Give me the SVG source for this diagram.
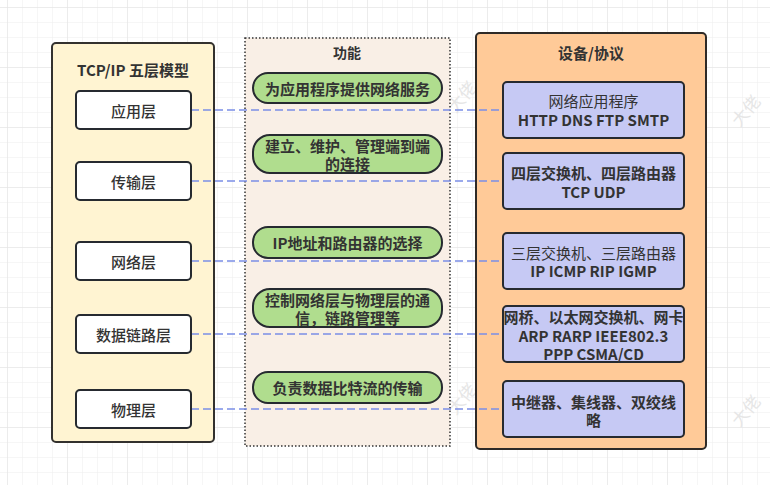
<svg xmlns="http://www.w3.org/2000/svg" width="770" height="485" viewBox="0 0 770 485">
  <defs>
    <pattern id="minor" x="7" y="7" width="15" height="15" patternUnits="userSpaceOnUse">
      <path d="M0 0H15M0 0V15" fill="none" stroke="#ededed" stroke-width="1"/>
    </pattern>
    <pattern id="major" x="7" y="7" width="60" height="60" patternUnits="userSpaceOnUse">
      <path d="M0 0H60M0 0V60" fill="none" stroke="#e2e2e2" stroke-width="1"/>
    </pattern>
    <style>
      text { font-family: "Noto Sans CJK SC", "Noto Sans", "Liberation Sans", sans-serif; fill: #333333; text-anchor: middle; dominant-baseline: central; }
      .title { font-size: 15px; font-weight: bold; }
      .layer rect { fill: #ffffff; stroke: #262a30; stroke-width: 2; }
      .layer text { font-size: 15px; font-weight: 500; }
      .func rect { fill: #b0dd8e; stroke: #262a30; stroke-width: 2; }
      .func text { font-size: 15px; font-weight: 600; }
      .dev rect { fill: #c6c9f4; stroke: #262a30; stroke-width: 2; }
      .dev text { font-size: 15px; }
      .dev .b { font-weight: bold; }
      .link { fill: none; stroke: #7b8ee6; stroke-width: 1.6; stroke-dasharray: 8 4; }
      .wm { font-size: 17px; fill: #e6e6e6; }
    </style>
  </defs>
  <rect width="770" height="485" fill="#ffffff"/>
  <rect width="770" height="485" fill="url(#minor)"/>
  <rect width="770" height="485" fill="url(#major)"/>

  <g id="watermarks">
    <text class="wm" transform="translate(461 96) rotate(-50)">大佬</text>
    <text class="wm" transform="translate(745 110) rotate(-50)">大佬</text>
    <text class="wm" transform="translate(461 398) rotate(-50)">大佬</text>
    <text class="wm" transform="translate(745 410) rotate(-50)">大佬</text>
  </g>

  <g id="model-container">
    <rect x="52" y="43" width="162" height="399" rx="4" fill="#fff4d2" stroke="#33312e" stroke-width="2"/>
    <text class="title" x="133" y="69">TCP/IP 五层模型</text>
  </g>
  <g id="function-container">
    <rect x="245" y="38" width="205" height="408" fill="#f9efe6" stroke="#333333" stroke-width="1.5" stroke-dasharray="1.5 2"/>
    <text class="title" x="347" y="52" style="font-size:14px">功能</text>
  </g>
  <g id="device-container">
    <rect x="476" y="33" width="230" height="416" rx="4" fill="#ffca98" stroke="#2e2a27" stroke-width="2"/>
    <text class="title" x="591" y="52">设备/协议</text>
  </g>

  <g id="connectors">
    <path class="link" d="M191 110H503"/>
    <path class="link" d="M191 181H503"/>
    <path class="link" d="M191 261H503"/>
    <path class="link" d="M191 334H503"/>
    <path class="link" d="M191 409H503"/>
  </g>

  <g id="layer-app" class="layer">
    <rect x="76" y="91" width="115" height="38" rx="4"/>
    <text x="133.5" y="110">应用层</text>
  </g>
  <g id="layer-transport" class="layer">
    <rect x="76" y="162" width="115" height="38" rx="4"/>
    <text x="133.5" y="181">传输层</text>
  </g>
  <g id="layer-network" class="layer">
    <rect x="76" y="242" width="115" height="38" rx="4"/>
    <text x="133.5" y="261">网络层</text>
  </g>
  <g id="layer-datalink" class="layer">
    <rect x="76" y="315" width="115" height="38" rx="4"/>
    <text x="133.5" y="334">数据链路层</text>
  </g>
  <g id="layer-physical" class="layer">
    <rect x="76" y="390" width="115" height="38" rx="4"/>
    <text x="133.5" y="409">物理层</text>
  </g>

  <g id="func-app" class="func">
    <rect x="253" y="73" width="189" height="30" rx="15"/>
    <text x="347.5" y="88">为应用程序提供网络服务</text>
  </g>
  <g id="func-transport" class="func">
    <rect x="253" y="135" width="189" height="38" rx="17"/>
    <text x="347.5" y="145">建立、维护、管理端到端</text>
    <text x="347.5" y="163">的连接</text>
  </g>
  <g id="func-network" class="func">
    <rect x="253" y="227" width="189" height="31" rx="15"/>
    <text x="347.5" y="242.5">IP地址和路由器的选择</text>
  </g>
  <g id="func-datalink" class="func">
    <rect x="253" y="289" width="189" height="38" rx="17"/>
    <text x="347.5" y="299">控制网络层与物理层的通</text>
    <text x="347.5" y="317">信，链路管理等</text>
  </g>
  <g id="func-physical" class="func">
    <rect x="253" y="372" width="189" height="31" rx="15"/>
    <text x="347.5" y="387.5">负责数据比特流的传输</text>
  </g>

  <g id="dev-app" class="dev">
    <rect x="503" y="82" width="181" height="56" rx="4"/>
    <text x="593.5" y="100">网络应用程序</text>
    <text class="b" x="593.5" y="119">HTTP DNS FTP SMTP</text>
  </g>
  <g id="dev-transport" class="dev">
    <rect x="503" y="153" width="181" height="56" rx="4"/>
    <text class="b" x="593.5" y="172">四层交换机、四层路由器</text>
    <text class="b" x="593.5" y="191">TCP UDP</text>
  </g>
  <g id="dev-network" class="dev">
    <rect x="503" y="233" width="181" height="56" rx="4"/>
    <text x="593.5" y="252">三层交换机、三层路由器</text>
    <text class="b" x="593.5" y="270">IP ICMP RIP IGMP</text>
  </g>
  <g id="dev-datalink" class="dev">
    <rect x="503" y="306" width="181" height="56" rx="4"/>
    <text class="b" x="593.5" y="316">网桥、以太网交换机、网卡</text>
    <text class="b" x="593.5" y="335">ARP RARP IEEE802.3</text>
    <text class="b" x="593.5" y="353">PPP CSMA/CD</text>
  </g>
  <g id="dev-physical" class="dev">
    <rect x="503" y="381" width="181" height="56" rx="4"/>
    <text class="b" x="593.5" y="401">中继器、集线器、双绞线</text>
    <text class="b" x="593.5" y="419">略</text>
  </g>
</svg>
